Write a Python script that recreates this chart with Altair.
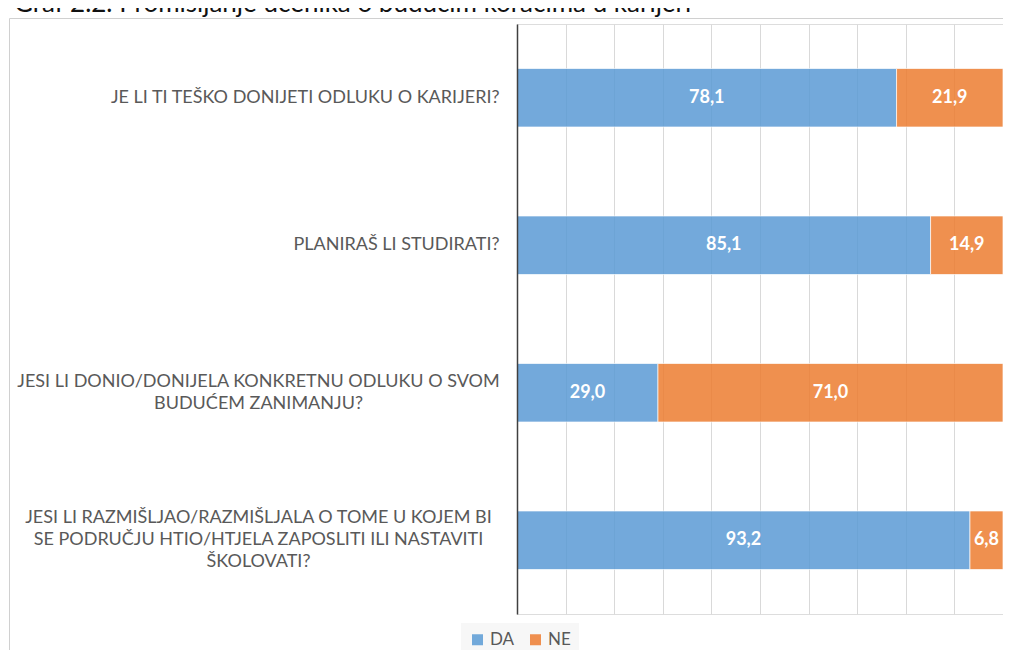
import altair as alt
import pandas as pd

# ---- data ----
questions = [
    "JE LI TI TEŠKO DONIJETI ODLUKU O KARIJERI?",
    "PLANIRAŠ LI STUDIRATI?",
    "JESI LI DONIO/DONIJELA KONKRETNU ODLUKU O SVOM|BUDUĆEM ZANIMANJU?",
    "JESI LI RAZMIŠLJAO/RAZMIŠLJALA O TOME U KOJEM BI|SE PODRUČJU HTIO/HTJELA ZAPOSLITI ILI NASTAVITI|ŠKOLOVATI?",
]
da_values = [78.1, 85.1, 29.0, 93.2]
ne_values = [21.9, 14.9, 71.0, 6.8]
series = ["DA", "NE"]
colors = ["#5B9BD5", "#ED7D31"]
title_text = "Graf 2.2. Promišljanje učenika o budućim koracima u karijeri"

rows = []
for q, d, n in zip(questions, da_values, ne_values):
    rows.append({"q": q, "serie": "DA", "value": d, "order": 0})
    rows.append({"q": q, "serie": "NE", "value": n, "order": 1})
df = pd.DataFrame(rows)

FONT = "Lato"
LH = 22
multi = "indexof(datum.value, '|') >= 0"
nlines = "length(split(datum.value, '|'))"

y_enc = alt.Y(
    "q:N",
    sort=questions,
    scale=alt.Scale(paddingInner=0.603, paddingOuter=0.3015),
    axis=alt.Axis(
        title=None,
        labelExpr="split(datum.value, '|')",
        labelAlign={"condition": {"test": multi, "value": "center"}, "value": "right"},
        labelPadding={"condition": {"test": multi, "value": 259}, "value": 18},
        labelOffset={
            "condition": [
                {"test": nlines + " == 3", "value": -LH},
                {"test": nlines + " == 2", "value": -LH / 2},
            ],
            "value": 0,
        },
        ticks=False,
        tickSize=0,
        domain=True,
        domainColor="#404040",
        domainWidth=1.5,
        labelFont=FONT,
        labelFontSize=18,
        labelColor="#595959",
        labelLineHeight=LH,
        labelLimit=1000,
        labelBaseline="middle",
        zindex=2,
    ),
)

base = alt.Chart(df).transform_stack(
    stack="value",
    groupby=["q"],
    as_=["x0", "x1"],
    sort=[alt.SortField(field="order", order="ascending")],
).transform_calculate(
    mid="(datum.x0 + datum.x1) / 2",
    lbl="replace(format(datum.value, '.1f'), '.', ',')",
)

bars = base.mark_bar(opacity=0.85, stroke="white", strokeWidth=1, strokeOpacity=0.7).encode(
    x=alt.X(
        "x0:Q",
        scale=alt.Scale(domain=[0, 100], nice=False, zero=True),
        axis=alt.Axis(
            values=list(range(0, 101, 10)),
            labels=False,
            ticks=False,
            domain=False,
            grid=True,
            gridColor="#d9d9d9",
            gridWidth=1,
            title=None,
        ),
    ),
    x2="x1:Q",
    y=y_enc,
    color=alt.Color(
        "serie:N",
        scale=alt.Scale(domain=series, range=colors),
        legend=alt.Legend(
            title=None,
            orient="none",
            legendX=-56,
            legendY=599,
            direction="horizontal",
            symbolType="square",
            symbolSize=121,
            symbolOpacity=0.85,
            symbolStrokeWidth=0,
            labelFont=FONT,
            labelFontSize=17,
            labelColor="#595959",
            fillColor="#f7f7f7",
            padding=8,
            columnPadding=12,
            labelOffset=4,
        ),
    ),
)

texts = base.mark_text(
    color="white", font=FONT, fontWeight="bold", fontSize=18, baseline="middle", align="center"
).encode(
    x=alt.X("mid:Q"),
    y=alt.Y("q:N", sort=questions),
    text="lbl:N",
)

frame = alt.Chart(pd.DataFrame({"a": [0]})).mark_rect(
    filled=False, stroke="#d0d0d0", strokeWidth=1
).encode(
    x=alt.value(-507.5), x2=alt.value(600), y=alt.value(-5.5), y2=alt.value(700)
)

title = alt.Chart(pd.DataFrame({"t": [title_text]})).mark_text(
    align="left", baseline="alphabetic", font=FONT, fontSize=26, color="#111111"
).encode(x=alt.value(-503), y=alt.value(-12), text="t:N")

chart = alt.layer(frame, title, bars, texts).properties(
    width=486,
    height=590,
    autosize=alt.AutoSizeParams(type="none"),
    padding={"left": 509, "top": 16, "right": 0, "bottom": 36},
).configure_view(strokeWidth=0).configure(background="white")

chart.save("out.html", embed_options={"renderer": "svg", "actions": False})
